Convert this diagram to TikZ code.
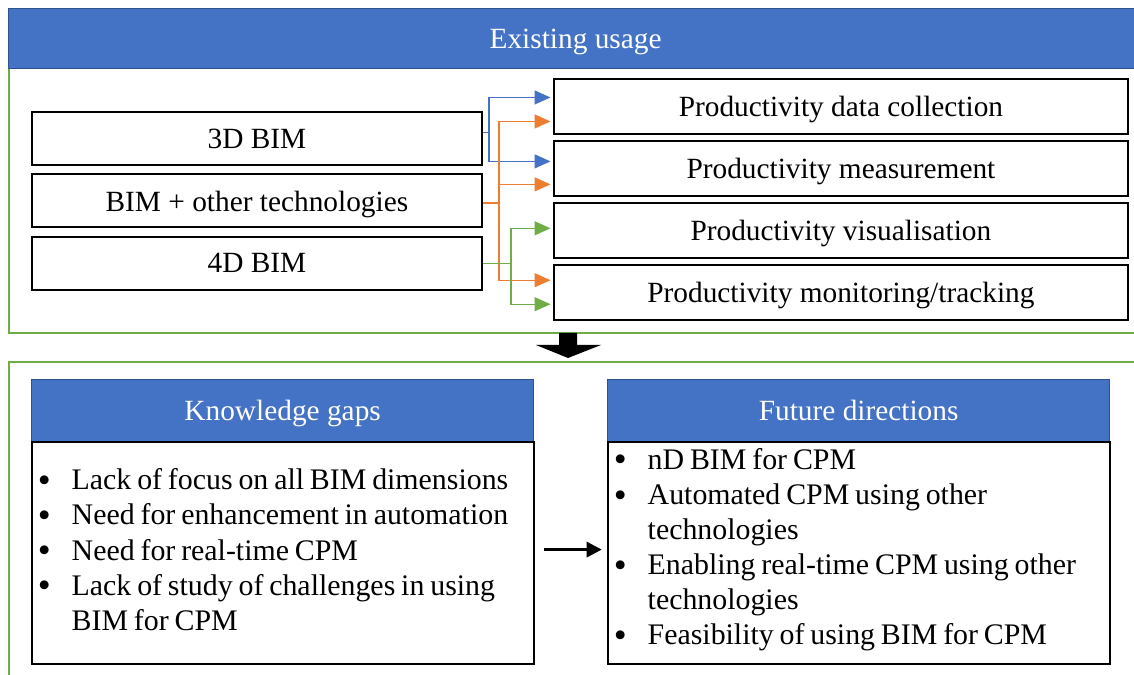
\documentclass[tikz,border=0pt]{standalone}
\usepackage{fontspec}
\setmainfont{Liberation Serif}
\usetikzlibrary{
    arrows.meta,
    calc,
    positioning,
}
\definecolor{hdrblue}{RGB}{68,114,196}
\definecolor{hdredge}{RGB}{47,82,143}
\definecolor{frgreen}{RGB}{112,173,71}
\definecolor{arrorange}{RGB}{237,125,49}
\newcommand{\diafont}{\fontsize{16.7}{20}\selectfont}
\newcommand{\listfont}{\fontsize{17}{20}\selectfont}
\newcommand{\bigbullet}{\raisebox{-1.6pt}{\fontsize{21}{20}\selectfont\textbullet}}
\newenvironment{bulletlist}{\listfont\begin{list}{\bigbullet}{\setlength{\leftmargin}{6.8mm}\setlength{\labelwidth}{2.6mm}\setlength{\labelsep}{4.2mm}\setlength{\itemsep}{0pt}\setlength{\parsep}{0pt}\setlength{\topsep}{0pt}\setlength{\partopsep}{0pt}}\raggedright}{\end{list}}
\tikzstyle{rect}=[draw,rectangle,line width=1.1pt,font=\diafont,inner sep=1mm]
\tikzstyle{srcbox}=[rect,text depth=0pt,minimum width=9cm,minimum height=1.06cm]
\tikzstyle{usebox}=[rect,text depth=0pt,minimum width=11.48cm,minimum height=1.1cm]
\tikzstyle{head}=[draw=hdredge,fill=hdrblue,line width=0.8pt,text=white,font=\diafont,text depth=0pt,rectangle,anchor=north west]
\tikzstyle{listbox}=[rect,minimum width=10.04cm,minimum height=4.44cm]
\tikzstyle{listtext}=[text width=9.8cm,inner sep=0pt]
\tikzstyle{frame}=[draw=frgreen,line width=1.2pt]
\tikzstyle{link}=[line width=0.8pt,-{Triangle[length=3.2mm,width=2.8mm]},shorten >=0.5mm]

\begin{document}
\begin{tikzpicture}[x=0.02cm,y=-0.02cm]
    \useasboundingbox (0,0) rectangle (1134,675);
    \clip (0,0) rectangle (1134,675);
    \draw[frame] (9,50) rectangle (1150,333);
    \draw[frame] (9,362) rectangle (1150,700);
    \node[head,minimum width=22.68cm,minimum height=1.2cm] (exist) at (8,8) {Existing usage};

    \node[srcbox,anchor=north west] (b3d) at (31,111) {3D BIM};
    \node[srcbox,below=0.15cm of b3d] (bim) {BIM + other technologies};
    \node[srcbox,below=0.15cm of bim] (b4d) {4D BIM};

    \node[usebox,anchor=north west] (pdc) at (553,78) {Productivity data collection};
    \node[usebox,below=0.1cm of pdc] (pm) {Productivity measurement};
    \node[usebox,below=0.1cm of pm] (pv) {Productivity visualisation};
    \node[usebox,below=0.1cm of pv] (pmt) {Productivity monitoring/tracking};

    \draw[link,hdrblue] ([yshift=0.12cm]b3d.east) -- ++(6,0) |- ([yshift=0.18cm]pdc.west);
    \draw[link,hdrblue] ([yshift=0.12cm]b3d.east) -- ++(6,0) |- ([yshift=0.14cm]pm.west);
    \draw[link,arrorange] ([yshift=-0.04cm]bim.east) -- ++(16,0) |- ([yshift=-0.3cm]pdc.west);
    \draw[link,arrorange] ([yshift=-0.04cm]bim.east) -- ++(16,0) |- ([yshift=-0.32cm]pm.west);
    \draw[link,arrorange] ([yshift=-0.04cm]bim.east) -- ++(16,0) |- ([yshift=0.24cm]pmt.west);
    \draw[link,frgreen] (b4d.east) -- ++(28,0) |- ([yshift=0.04cm]pv.west);
    \draw[link,frgreen] (b4d.east) -- ++(28,0) |- ([yshift=-0.24cm]pmt.west);

    \fill (559,333) -- (577,333) -- (577,345) -- (601,345) -- (568,358) -- (536,345) -- (559,345) -- cycle;

    \node[head,minimum width=10.04cm,minimum height=1.24cm] (kghead) at (31,379) {Knowledge gaps};
    \node[listbox,below=-1pt of kghead] (kgbody) {};
    \node[listtext] (kgtext) at ([yshift=0.2cm]kgbody.center) {%
        \begin{bulletlist}
        \item Lack of focus on all BIM dimensions
        \item Need for enhancement in automation
        \item Need for real-time CPM
        \item Lack of study of challenges in using BIM for CPM
        \end{bulletlist}};
    \node[head,minimum width=10.04cm,minimum height=1.24cm] (fdhead) at (607,379) {Future directions};
    \node[listbox,below=-1pt of fdhead] (fdbody) {};
    \node[listtext] (fdtext) at ([yshift=0.2cm]fdbody.center) {%
        \begin{bulletlist}
        \item nD BIM for CPM
        \item Automated CPM using other technologies
        \item Enabling real-time CPM using other technologies
        \item Feasibility of using BIM for CPM
        \end{bulletlist}};
    \draw[line width=1.7pt,-{Triangle[length=3mm,width=3mm]},shorten <=0.18cm,shorten >=0.1cm] ([yshift=0.06cm]kgbody.east) -- ([yshift=0.06cm]fdbody.west);
\end{tikzpicture}
\end{document}
